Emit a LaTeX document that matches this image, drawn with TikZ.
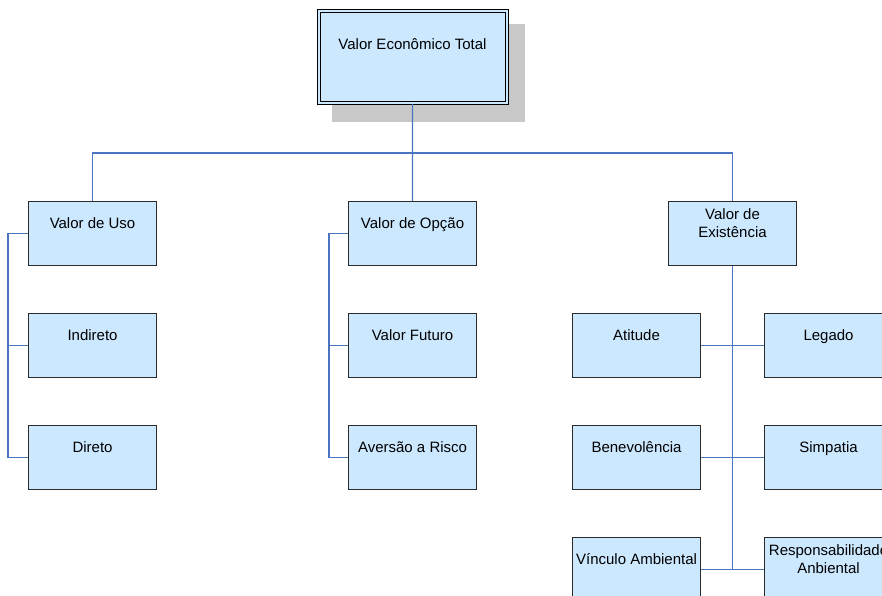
\documentclass[tikz,border=0pt]{standalone}
\usepackage{fontspec}
\setmainfont{Liberation Sans}
\definecolor{boxfill}{HTML}{CCE8FF}
\definecolor{boxline}{HTML}{2B2B2B}
\definecolor{wire}{HTML}{4A74C0}
\definecolor{shadowgray}{HTML}{C8C8C8}
\tikzset{
  box/.style={draw=boxline, line width=1.1pt, fill=boxfill, rectangle,
    minimum width=128pt, minimum height=64pt, inner sep=0pt, anchor=north west},
  txt/.style={font=\fontsize{15}{18.5}\selectfont, align=center, inner sep=0pt,
    text height=11pt, text depth=3pt, anchor=center},
  wire/.style={draw=wire, line width=1.2pt},
  trunk/.style={draw=wire, line width=1.6pt},
}
% box with a one-line caption set in its upper part
\newcommand{\mybox}[4]{%
  \node[box] (#1) at (#2,#3) {};
  \node[txt] (#1-t) at ([yshift=-23pt]#1.north) {#4};
}
% box with a two-line caption
\newcommand{\myboxii}[4]{%
  \node[box] (#1) at (#2,#3) {};
  \node[txt] (#1-t) at ([yshift=-32.5pt]#1.north) {#4};
}
\begin{document}
\begin{tikzpicture}[x=1pt,y=-1pt]
\useasboundingbox (0,0) rectangle (882,596);
\clip (0,0) rectangle (882,596);

% root with drop shadow and double frame
\fill[shadowgray] (332,24) rectangle (525,122);
\node[draw=black, line width=1pt, double=boxfill, double distance=2pt, fill=boxfill,
  minimum width=188pt, minimum height=92pt, inner sep=0pt, anchor=north west]
  (root) at (318,11) {};
\node[txt] (root-t) at ([yshift=-35pt]root.north) {Valor Econômico Total};

% second level
\mybox{uso}{28}{201}{Valor de Uso}
\mybox{opc}{348}{201}{Valor de Opção}
\myboxii{exi}{668}{201}{Valor de\\Existência}

% use value branch
\mybox{ind}{28}{313}{Indireto}
\mybox{dir}{28}{425}{Direto}

% option value branch
\mybox{fut}{348}{313}{Valor Futuro}
\mybox{ris}{348}{425}{Aversão a Risco}

% existence value branch
\mybox{ati}{572}{313}{Atitude}
\mybox{leg}{764}{313}{Legado}
\mybox{ben}{572}{425}{Benevolência}
\mybox{sim}{764}{425}{Simpatia}
\mybox{vin}{572}{537}{Vínculo Ambiental}
\myboxii{res}{764}{537}{Responsabilidade\\Anbiental}

% connectors from the root
\coordinate (bus) at (412,153);
\draw[wire] (root.south) -- (opc.north);
\draw[wire] (uso.north) |- (bus) -| (exi.north);

% left-hand buses
\draw[wire] (uso.west) -- ++(-20,0) |- (dir.west);
\draw[wire] (ind.west) -- ++(-20,0);
\draw[wire] (opc.west) -- ++(-19,0) |- (ris.west);
\draw[wire] (fut.west) -- ++(-19,0);

% existence trunk and its pairs
\coordinate (trunkend) at (exi.south |- vin.west);
\draw[trunk] (exi.south) -- (trunkend);
\draw[wire] (ati.east) -- (leg.west);
\draw[wire] (ben.east) -- (sim.west);
\draw[wire] (vin.east) -- (res.west);
\end{tikzpicture}
\end{document}
